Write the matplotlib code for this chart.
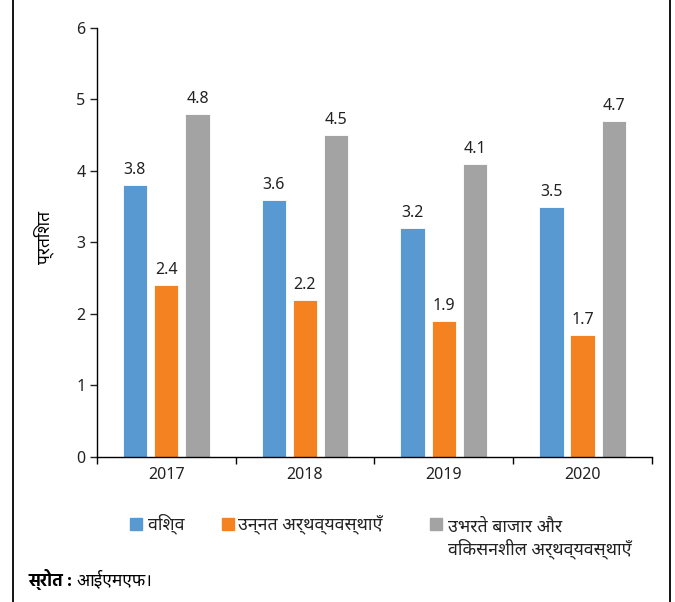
import matplotlib
matplotlib.use("Agg")
import matplotlib.pyplot as plt
import numpy as np
from matplotlib.lines import Line2D
from matplotlib.patches import Rectangle

plt.rcParams['font.family'] = ['Noto Sans', 'Noto Sans Devanagari', 'DejaVu Sans']

# data
years = ['2017', '2018', '2019', '2020']
vishva = [3.8, 3.6, 3.2, 3.5]            # विश्व
unnat = [2.4, 2.2, 1.9, 1.7]             # उन्नत अर्थव्यवस्थाएँ
ubharte = [4.8, 4.5, 4.1, 4.7]           # उभरते बाजार और विकसनशील अर्थव्यवस्थाएँ

series_labels = ['विश्व', 'उन्नत अर्थव्यवस्थाएँ', 'उभरते बाजार और\nविकसनशील अर्थव्यवस्थाएँ']
colors = ['#5899D2', '#F58220', '#A3A3A3']

fig = plt.figure(figsize=(6.75, 6.02), dpi=100)
ax = fig.add_axes([0.1433, 0.2409, 0.966 - 0.1433, 0.9535 - 0.2409])

x = np.arange(len(years))
width = 0.175
offs = [-0.225, 0.0, 0.225]

for vals, off, col in zip([vishva, unnat, ubharte], offs, colors):
    b = ax.bar(x + off, vals, width, color=col, edgecolor='white', linewidth=0.6)
    ax.bar_label(b, fmt='%.1f', padding=5, fontsize=11.5, color='#222222')

ax.set_ylim(0, 6)
ax.set_xlim(-0.5, len(years) - 0.5)
ax.set_yticks(range(0, 7))
ax.tick_params(axis='y', length=5, width=1, pad=3, labelsize=11.5, colors='#222222')

# category boundaries as major ticks, labels on minor ticks
ax.set_xticks(np.arange(-0.5, len(years), 1.0))
ax.set_xticklabels([])
ax.set_xticks(x, minor=True)
ax.set_xticklabels(years, minor=True)
ax.tick_params(axis='x', which='major', length=5, width=1)
ax.tick_params(axis='x', which='minor', length=0, pad=7, labelsize=11.5, colors='#222222')

for s in ['top', 'right']:
    ax.spines[s].set_visible(False)
for s in ['left', 'bottom']:
    ax.spines[s].set_color('black')
    ax.spines[s].set_linewidth(1)

fig.text(44 / 675, 1 - 238 / 602, 'प्रतिशत', rotation=90, ha='center', va='center', fontsize=12.5)

# legend
W, H = 675, 602
sq = [(130, 518), (222, 518), (430, 518)]
txt_x = [148, 238, 448]
for (sx, sy), tx, col, lab in zip(sq, txt_x, colors, series_labels):
    fig.add_artist(Rectangle((sx / W, 1 - (sy + 12) / H), 12 / W, 12 / H,
                             transform=fig.transFigure, color=col))
    if '\n' in lab:
        fig.text(tx / W, 1 - 538 / H, lab, ha='left', va='center',
                 fontsize=12.8, linespacing=1.2, color='#222222')
    else:
        fig.text(tx / W, 1 - 524 / H, lab, ha='left', va='center',
                 fontsize=12.8, color='#222222')

# source line
t1 = fig.text(28 / W, 1 - 580 / H, 'स्रोत :', ha='left', va='center', fontsize=12.5,
              fontweight='bold', family=['Hind', 'Noto Sans Devanagari'])
ax.annotate('आईएमएफ।', xy=(1, 0.5), xycoords=t1, xytext=(3, 0), textcoords='offset points',
            ha='left', va='center', fontsize=12.5)

# frame lines
for fx in [13, 670]:
    fig.add_artist(Line2D([fx / W, fx / W], [0, 1], transform=fig.transFigure, color='black', lw=1.3))

fig.savefig('out.png', dpi=100)
